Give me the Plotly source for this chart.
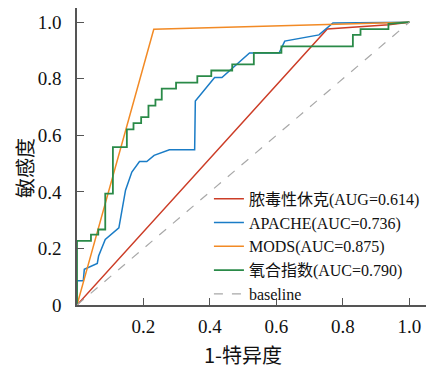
import plotly.graph_objects as go

# Data
septic_fpr = [0.0, 0.753, 0.938, 1.0]
septic_tpr = [0.0, 0.976, 0.991, 1.0]

apache_fpr = [0.0, 0.0, 0.019, 0.022, 0.061, 0.065, 0.085, 0.126, 0.146, 0.165, 0.188, 0.210,
              0.232, 0.278, 0.354, 0.356, 0.414, 0.436, 0.519, 0.608, 0.625, 0.728, 0.770, 1.0]
apache_tpr = [0.0, 0.086, 0.086, 0.126, 0.147, 0.173, 0.232, 0.273, 0.406, 0.470, 0.507, 0.507,
              0.529, 0.549, 0.549, 0.721, 0.804, 0.804, 0.891, 0.891, 0.933, 0.955, 0.997, 1.0]

mods_fpr = [0.0, 0.231, 1.0]
mods_tpr = [0.0, 0.975, 1.0]

oxy_fpr = [0.0, 0.0, 0.042, 0.042, 0.064, 0.064, 0.085, 0.085, 0.108, 0.108, 0.150, 0.150,
           0.170, 0.170, 0.193, 0.193, 0.215, 0.215, 0.236, 0.236, 0.255, 0.255, 0.298, 0.298,
           0.362, 0.362, 0.404, 0.404, 0.467, 0.467, 0.532, 0.532, 0.615, 0.615, 0.830, 0.830,
           0.853, 0.853, 0.937, 0.937, 1.0]
oxy_tpr = [0.0, 0.227, 0.227, 0.249, 0.249, 0.267, 0.267, 0.394, 0.394, 0.558, 0.558, 0.621,
           0.621, 0.643, 0.643, 0.664, 0.664, 0.705, 0.705, 0.726, 0.726, 0.765, 0.765, 0.786,
           0.786, 0.809, 0.809, 0.829, 0.829, 0.851, 0.851, 0.891, 0.891, 0.914, 0.914, 0.955,
           0.955, 0.975, 0.975, 0.994, 1.0]

base_x = [0.0, 1.0]
base_y = [0.0, 1.0]

names = ["脓毒性休克(AUG=0.614)", "APACHE(AUC=0.736)", "MODS(AUC=0.875)",
         "氧合指数(AUC=0.790)", "baseline"]

x_tickvals = [0.2, 0.4, 0.6, 0.8, 1.0]
x_ticktext = ["0.2", "0.4", "0.6", "0.8", "1.0"]
y_tickvals = [0.0, 0.2, 0.4, 0.6, 0.8, 1.0]
y_ticktext = ["0", "0.2", "0.4", "0.6", "0.8", "1.0"]

SERIF = "Liberation Serif, Times New Roman, Noto Sans CJK SC, serif"
CJK = "Noto Sans CJK SC, Liberation Serif, serif"

fig = go.Figure()
fig.add_trace(go.Scatter(x=septic_fpr, y=septic_tpr, mode="lines", name=names[0],
                         line=dict(color="#cc3d27", width=1.5)))
fig.add_trace(go.Scatter(x=apache_fpr, y=apache_tpr, mode="lines", name=names[1],
                         line=dict(color="#1a7cc6", width=1.5)))
fig.add_trace(go.Scatter(x=mods_fpr, y=mods_tpr, mode="lines", name=names[2],
                         line=dict(color="#f28a25", width=1.5)))
fig.add_trace(go.Scatter(x=oxy_fpr, y=oxy_tpr, mode="lines", name=names[3],
                         line=dict(color="#2a8a48", width=1.8)))
fig.add_trace(go.Scatter(x=base_x, y=base_y, mode="lines", name=names[4],
                         line=dict(color="#a8a8a8", width=1.2, dash="dash")))

axis_common = dict(
    showgrid=False, zeroline=False, showline=True, linecolor="#555555", linewidth=1.5,
    ticks="inside", ticklen=7, tickwidth=1.2, tickcolor="#555555",
    tickfont=dict(family=SERIF, size=19, color="#111111"),
    range=[0, 1.05], fixedrange=True, automargin=False,
)

# The page body has an 8px default margin; the figure is sized to fit inside it.
fig.update_layout(
    width=440, height=360,
    margin=dict(l=69, r=22, t=0, b=63, autoexpand=False),
    paper_bgcolor="white", plot_bgcolor="white",
    showlegend=True,
    legend=dict(x=0.378, xanchor="left", y=0.415, yanchor="top",
                bgcolor="rgba(0,0,0,0)", font=dict(family=SERIF, size=16, color="#111111"),
                tracegroupgap=0, itemwidth=30),
    xaxis=dict(**axis_common, tickvals=x_tickvals, ticktext=x_ticktext, ticklabelstandoff=3),
    yaxis=dict(**axis_common, tickvals=y_tickvals, ticktext=y_ticktext, ticklabelstandoff=10),
    annotations=[
        dict(text="1-特异度", xref="paper", yref="paper", x=0.475, y=-0.165,
             xanchor="center", yanchor="middle", showarrow=False,
             font=dict(family=CJK, size=20, color="#111111")),
        dict(text="敏感度", xref="paper", yref="paper", x=-0.152, y=0.461,
             xanchor="center", yanchor="middle", showarrow=False, textangle=-90,
             font=dict(family=CJK, size=20, color="#111111")),
    ],
)

fig.write_html("out.html")
